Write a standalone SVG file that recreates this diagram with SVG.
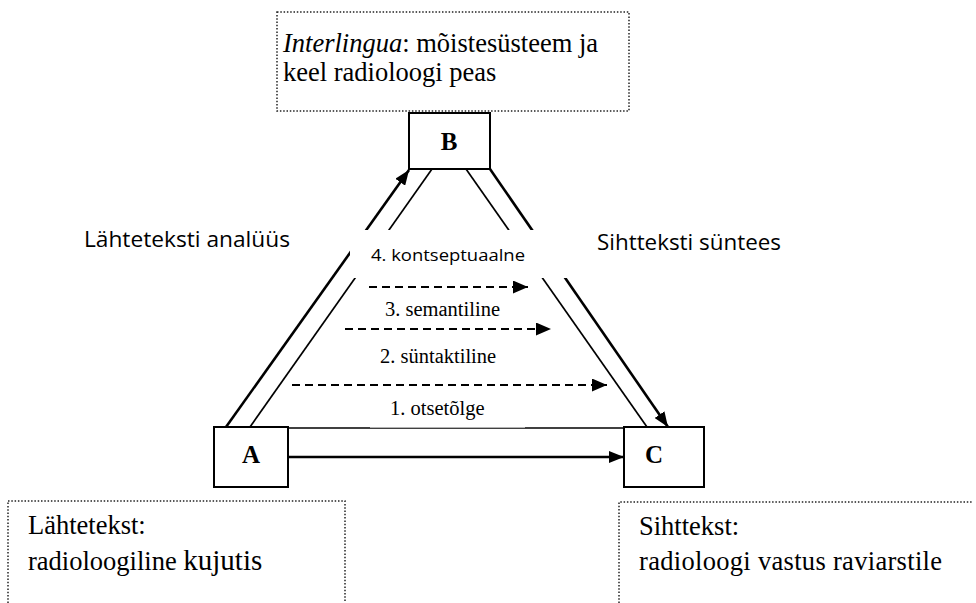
<svg xmlns="http://www.w3.org/2000/svg" width="976" height="603" viewBox="0 0 976 603">
<style>
.dot{fill:none;stroke:#222;stroke-width:1.5;stroke-dasharray:1.5,1.8}
.serif{font-family:"Liberation Serif","Times New Roman",serif;fill:#000}
.sans{font-family:"Open Sans","Noto Sans","Liberation Sans",sans-serif;fill:#000}
.box{fill:#fff;stroke:#000;stroke-width:2}
.arr{fill:none;stroke:#000;stroke-width:2.6}
.thin{fill:none;stroke:#000;stroke-width:1.7}
.dash{fill:none;stroke:#000;stroke-width:2.2;stroke-dasharray:8,5}
.letter{font-family:"Liberation Serif","Times New Roman",serif;font-weight:bold;font-size:25px;text-anchor:middle}
</style>
<defs>
<marker id="ah" markerUnits="userSpaceOnUse" markerWidth="16" markerHeight="12" refX="15" refY="6" orient="auto">
<path d="M0,0 L15,6 L0,12 Z" fill="#000"/>
</marker>
<marker id="ahs" markerUnits="userSpaceOnUse" markerWidth="16" markerHeight="13" refX="15" refY="6.5" orient="auto">
<path d="M0,0 L15,6.5 L0,13 Z" fill="#000"/>
</marker>
</defs>
<rect width="976" height="603" fill="#fff"/>

<g id="interlingua-box">
<rect class="dot" x="277" y="12" width="352" height="99"/>
<text class="serif" font-size="26.5" x="283" y="52"><tspan font-style="italic">Interlingua</tspan>: mõistesüsteem ja</text>
<text class="serif" font-size="26.5" x="283" y="81">keel radioloogi peas</text>
</g>

<g id="source-box">
<rect class="dot" x="8" y="501" width="337" height="115"/>
<text class="serif" font-size="26.5" x="28" y="534">Lähtetekst:</text>
<text class="serif" font-size="26.5" x="28" y="570">radioloogiline <tspan font-size="29">kujutis</tspan></text>
</g>

<g id="target-box">
<path class="dot" d="M619,603 V502 H973"/>
<text class="serif" font-size="26.5" x="639" y="535">Sihttekst:</text>
<text class="serif" font-size="26.5" x="639" y="570" textLength="303">radioloogi vastus raviarstile</text>
</g>

<g id="connectors">
<line class="arr" x1="226" y1="427" x2="409" y2="170" marker-end="url(#ah)"/>
<line class="thin" x1="250" y1="427" x2="432" y2="169"/>
<line class="thin" x1="466" y1="169" x2="647" y2="427"/>
<line class="arr" x1="490" y1="169" x2="668" y2="427" marker-end="url(#ah)"/>
<line class="thin" x1="288" y1="428" x2="624" y2="428"/>
<line class="arr" x1="288" y1="457" x2="624" y2="457" marker-end="url(#ah)"/>
<rect x="350" y="230" width="220" height="48" fill="#fff"/>
<rect x="370" y="396" width="155" height="31.6" fill="#fff"/>
<line class="dash" x1="369" y1="287" x2="528" y2="287" marker-end="url(#ahs)"/>
<line class="dash" x1="345" y1="329" x2="551" y2="329" marker-end="url(#ahs)"/>
<line class="dash" x1="292" y1="385" x2="607" y2="385" marker-end="url(#ahs)"/>
</g>

<g id="labels">
<text class="sans" font-size="21.5" x="84" y="247" textLength="206" lengthAdjust="spacingAndGlyphs">Lähteteksti analüüs</text>
<text class="sans" font-size="21.5" x="597" y="250" textLength="184" lengthAdjust="spacingAndGlyphs">Sihtteksti süntees</text>
<text class="sans" font-size="17" x="371" y="261" textLength="154" lengthAdjust="spacingAndGlyphs">4. kontseptuaalne</text>
<text class="serif" font-size="20.5" x="385" y="316">3. semantiline</text>
<text class="serif" font-size="20.5" x="380" y="363">2. süntaktiline</text>
<text class="serif" font-size="20.5" x="390" y="415">1. otsetõlge</text>
</g>

<g id="node-B">
<rect class="box" x="409" y="113" width="81" height="56"/>
<text class="letter" x="449" y="150">B</text>
</g>
<g id="node-A">
<rect class="box" x="214" y="427" width="74" height="60"/>
<text class="letter" x="251" y="463">A</text>
</g>
<g id="node-C">
<rect class="box" x="624" y="427" width="80" height="60"/>
<text class="letter" x="654" y="463">C</text>
</g>
</svg>
